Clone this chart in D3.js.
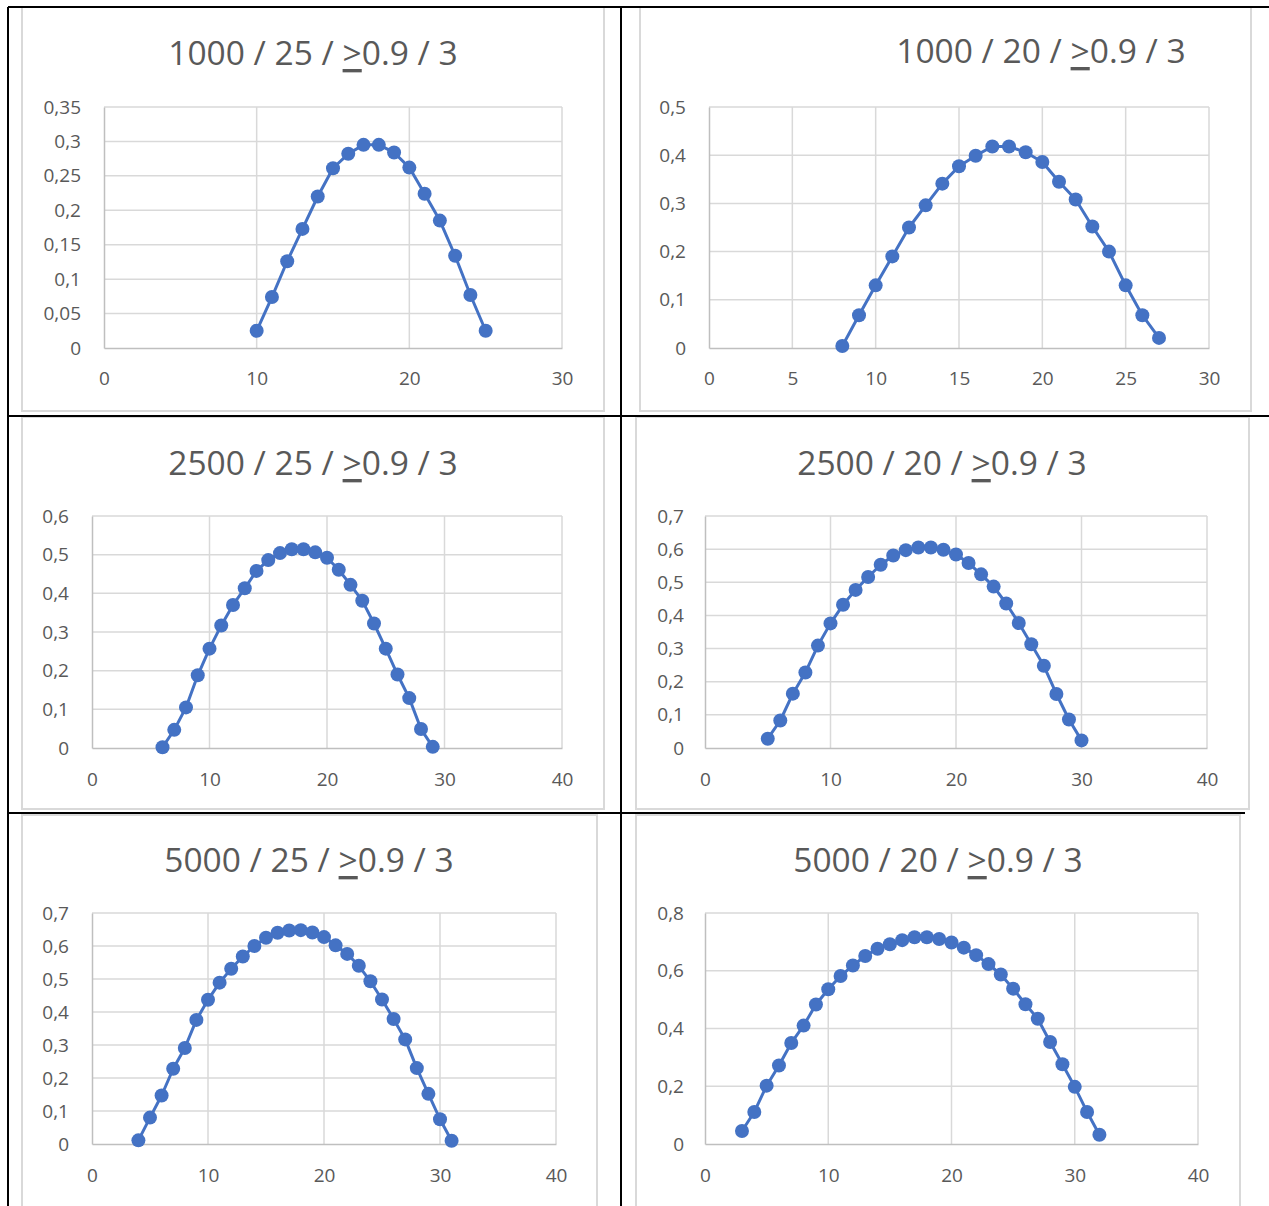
<!DOCTYPE html>
<html>
<head>
<meta charset="utf-8">
<script src="https://cdn.jsdelivr.net/npm/d3@7"></script>
<style>
  html, body { margin: 0; padding: 0; background: #ffffff; }
  svg { display: block; }
  text { font-family: "Open Sans", "Noto Sans", sans-serif; fill: #595959; }
</style>
</head>
<body>
<svg id="chart" width="1269" height="1206"></svg>
<script>
// ---------- DATA ----------
const titlesLead = ["1000 / 25 / ", "1000 / 20 / ", "2500 / 25 / ", "2500 / 20 / ", "5000 / 25 / ", "5000 / 20 / "];
const titleSymbol = ">";
const titleTail = "0.9 / 3";

const x1000_25 = [10, 11, 12, 13, 14, 15, 16, 17, 18, 19, 20, 21, 22, 23, 24, 25];
const y1000_25 = [0.025, 0.074, 0.126, 0.173, 0.220, 0.261, 0.282, 0.295, 0.295, 0.284, 0.262, 0.224, 0.185, 0.134, 0.077, 0.025];

const x1000_20 = [8, 9, 10, 11, 12, 13, 14, 15, 16, 17, 18, 19, 20, 21, 22, 23, 24, 25, 26, 27];
const y1000_20 = [0.004, 0.068, 0.130, 0.190, 0.250, 0.296, 0.341, 0.377, 0.399, 0.418, 0.418, 0.406, 0.386, 0.345, 0.308, 0.252, 0.200, 0.130, 0.068, 0.021];

const x2500_25 = [6, 7, 8, 9, 10, 11, 12, 13, 14, 15, 16, 17, 18, 19, 20, 21, 22, 23, 24, 25, 26, 27, 28, 29];
const y2500_25 = [0.002, 0.047, 0.105, 0.188, 0.257, 0.317, 0.370, 0.413, 0.458, 0.486, 0.504, 0.514, 0.514, 0.506, 0.492, 0.461, 0.422, 0.381, 0.322, 0.257, 0.190, 0.129, 0.049, 0.003];

const x2500_20 = [5, 6, 7, 8, 9, 10, 11, 12, 13, 14, 15, 16, 17, 18, 19, 20, 21, 22, 23, 24, 25, 26, 27, 28, 29, 30];
const y2500_20 = [0.028, 0.083, 0.164, 0.228, 0.309, 0.376, 0.432, 0.477, 0.516, 0.553, 0.581, 0.597, 0.605, 0.605, 0.598, 0.584, 0.558, 0.524, 0.487, 0.436, 0.377, 0.313, 0.248, 0.163, 0.086, 0.023];

const x5000_25 = [4, 5, 6, 7, 8, 9, 10, 11, 12, 13, 14, 15, 16, 17, 18, 19, 20, 21, 22, 23, 24, 25, 26, 27, 28, 29, 30, 31];
const y5000_25 = [0.011, 0.080, 0.147, 0.228, 0.291, 0.376, 0.437, 0.489, 0.531, 0.568, 0.600, 0.625, 0.640, 0.647, 0.648, 0.641, 0.627, 0.602, 0.576, 0.540, 0.493, 0.438, 0.379, 0.317, 0.230, 0.152, 0.075, 0.010];

const x5000_20 = [3, 4, 5, 6, 7, 8, 9, 10, 11, 12, 13, 14, 15, 16, 17, 18, 19, 20, 21, 22, 23, 24, 25, 26, 27, 28, 29, 30, 31, 32];
const y5000_20 = [0.045, 0.111, 0.202, 0.272, 0.350, 0.410, 0.483, 0.536, 0.582, 0.618, 0.651, 0.676, 0.692, 0.706, 0.716, 0.716, 0.710, 0.698, 0.680, 0.654, 0.623, 0.587, 0.538, 0.484, 0.434, 0.353, 0.276, 0.198, 0.111, 0.032];

const xTicks30a = [0, 10, 20, 30];
const xTicks30b = [0, 5, 10, 15, 20, 25, 30];
const xTicks40 = [0, 10, 20, 30, 40];
const yTicks035 = [0, 0.05, 0.1, 0.15, 0.2, 0.25, 0.3, 0.35];
const yTicks05 = [0, 0.1, 0.2, 0.3, 0.4, 0.5];
const yTicks06 = [0, 0.1, 0.2, 0.3, 0.4, 0.5, 0.6];
const yTicks07 = [0, 0.1, 0.2, 0.3, 0.4, 0.5, 0.6, 0.7];
const yTicks08 = [0, 0.2, 0.4, 0.6, 0.8];

// ---------- LAYOUT (positions & sizes) ----------
const panels = [
  { x: x1000_25, y: y1000_25, xt: xTicks30a, yt: yTicks035,
    frame: [22, 7, 604, 411], plot: [104, 107, 562, 348], yLabRight: 81, xLabY: 379, title: [313, 52] },
  { x: x1000_20, y: y1000_20, xt: xTicks30b, yt: yTicks05,
    frame: [640, 7, 1251, 411], plot: [709, 107, 1209, 348], yLabRight: 686, xLabY: 379, title: [1041, 50] },
  { x: x2500_25, y: y2500_25, xt: xTicks40, yt: yTicks06,
    frame: [22, 417, 604, 809], plot: [92, 516, 562, 748], yLabRight: 69, xLabY: 780, title: [313, 462] },
  { x: x2500_20, y: y2500_20, xt: xTicks40, yt: yTicks07,
    frame: [636, 417, 1249, 809], plot: [705, 516, 1207, 748], yLabRight: 684, xLabY: 780, title: [942, 462] },
  { x: x5000_25, y: y5000_25, xt: xTicks40, yt: yTicks07,
    frame: [22, 815, 597, 1212], plot: [92, 913, 556, 1144], yLabRight: 69, xLabY: 1176, title: [309, 859] },
  { x: x5000_20, y: y5000_20, xt: xTicks40, yt: yTicks08,
    frame: [636, 815, 1240, 1212], plot: [705, 913, 1198, 1144], yLabRight: 684, xLabY: 1176, title: [938, 859] }
];

const blue = "#4472C4";
const gridColor = "#d9d9d9";
const axisColor = "#bfbfbf";

const locale = d3.formatLocale({ decimal: ",", thousands: ".", grouping: [3], currency: ["", ""] });
const fmt = locale.format("~g");

const svg = d3.select("#chart");

panels.forEach((p, i) => {
  const g = svg.append("g");
  const [fx0, fy0, fx1, fy1] = p.frame;
  g.append("rect")
    .attr("x", fx0).attr("y", fy0)
    .attr("width", fx1 - fx0).attr("height", fy1 - fy0)
    .attr("fill", "#ffffff").attr("stroke", gridColor).attr("stroke-width", 2);

  const [px0, py0, px1, py1] = p.plot;
  const xs = d3.scaleLinear().domain([0, d3.max(p.xt)]).range([px0, px1]);
  const ys = d3.scaleLinear().domain([0, d3.max(p.yt)]).range([py1, py0]);

  // gridlines
  g.append("g").selectAll("line.h").data(p.yt.filter(v => v !== 0)).join("line")
    .attr("x1", px0).attr("x2", px1)
    .attr("y1", d => ys(d)).attr("y2", d => ys(d))
    .attr("stroke", gridColor).attr("stroke-width", 1.5);
  g.append("g").selectAll("line.v").data(p.xt.filter(v => v !== 0)).join("line")
    .attr("y1", py0).attr("y2", py1)
    .attr("x1", d => xs(d)).attr("x2", d => xs(d))
    .attr("stroke", gridColor).attr("stroke-width", 1.5);

  // axes (lines + labels) via d3 axis
  const yAxis = d3.axisLeft(ys).tickValues(p.yt).tickFormat(fmt).tickSize(0).tickPadding(px0 - p.yLabRight);
  const ya = g.append("g").attr("transform", `translate(${px0},0)`).call(yAxis);
  ya.select(".domain").attr("stroke", axisColor).attr("stroke-width", 1.5);
  ya.selectAll("text").attr("fill", "#595959").style("font-size", "19px")
    .style("font-family", '"Open Sans", sans-serif');

  const xAxis = d3.axisBottom(xs).tickValues(p.xt).tickFormat(fmt).tickSize(0).tickPadding(p.xLabY - py1 - 7);
  const xa = g.append("g").attr("transform", `translate(0,${py1})`).call(xAxis);
  xa.select(".domain").attr("stroke", axisColor).attr("stroke-width", 1.5);
  xa.selectAll("text").attr("fill", "#595959").style("font-size", "19px")
    .style("font-family", '"Open Sans", sans-serif');

  // series
  const pts = p.x.map((xv, k) => [xv, p.y[k]]);
  g.append("path").datum(pts)
    .attr("fill", "none").attr("stroke", blue).attr("stroke-width", 3)
    .attr("stroke-linejoin", "round")
    .attr("d", d3.line().x(d => xs(d[0])).y(d => ys(d[1])));
  g.append("g").selectAll("circle").data(pts).join("circle")
    .attr("cx", d => xs(d[0])).attr("cy", d => ys(d[1]))
    .attr("r", 7).attr("fill", blue);

  // title
  const t = g.append("text")
    .attr("x", p.title[0]).attr("y", p.title[1])
    .attr("text-anchor", "middle").attr("dominant-baseline", "central")
    .style("font-size", "33.5px");
  t.append("tspan").text(titlesLead[i]);
  t.append("tspan").text(titleSymbol).style("text-decoration", "underline");
  t.append("tspan").text(titleTail);
});

// table borders (black)
const borders = [
  [8, 7, 1269, 7],
  [8, 7, 8, 1206],
  [621, 7, 621, 1206],
  [8, 416, 1269, 416],
  [8, 813, 1245, 813]
];
svg.append("g").selectAll("line").data(borders).join("line")
  .attr("x1", d => d[0]).attr("y1", d => d[1])
  .attr("x2", d => d[2]).attr("y2", d => d[3])
  .attr("stroke", "#000000").attr("stroke-width", 2);
</script>
</body>
</html>
